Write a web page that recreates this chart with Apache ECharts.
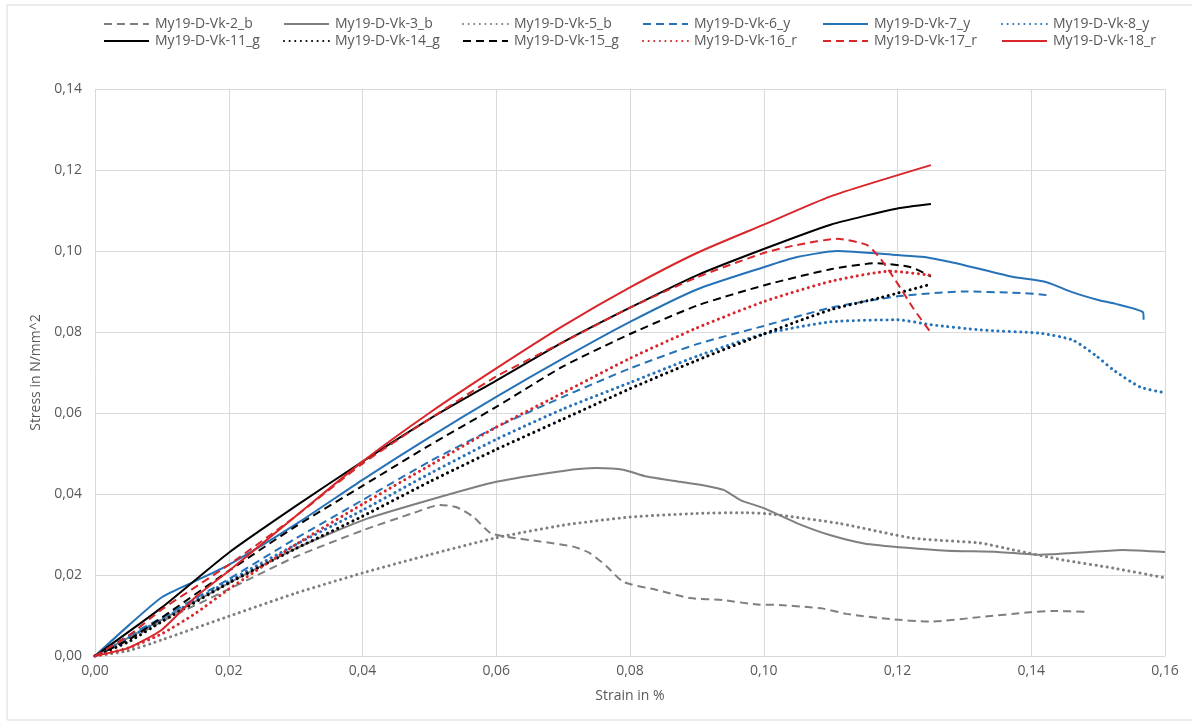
<!DOCTYPE html>
<html>
<head>
<meta charset="utf-8">
<script src="https://cdn.jsdelivr.net/npm/echarts@6/dist/echarts.min.js"></script>
<style>
html, body { margin: 0; padding: 0; background: #fff; }
#main { width: 1192px; height: 728px; }
</style>
</head>
<body>
<div id="main"></div>
<script>
var seriesNames = [
    'My19-D-Vk-2_b', 'My19-D-Vk-3_b', 'My19-D-Vk-5_b', 'My19-D-Vk-6_y', 'My19-D-Vk-7_y', 'My19-D-Vk-8_y',
    'My19-D-Vk-11_g', 'My19-D-Vk-14_g', 'My19-D-Vk-15_g', 'My19-D-Vk-16_r', 'My19-D-Vk-17_r', 'My19-D-Vk-18_r'
];

// [strain, stress]
var vk2 = [[0, 0], [0.005, 0.004], [0.01, 0.0085], [0.02, 0.0165], [0.03, 0.0245], [0.04, 0.031], [0.0476, 0.0353],
    [0.0516, 0.0373], [0.054, 0.0368], [0.0566, 0.0343], [0.0591, 0.0304], [0.0616, 0.0294], [0.0665, 0.0283],
    [0.0715, 0.027], [0.074, 0.0254], [0.0766, 0.022], [0.079, 0.0183], [0.084, 0.0163], [0.089, 0.0143],
    [0.0939, 0.0138], [0.099, 0.0127], [0.1024, 0.0126], [0.1065, 0.0121], [0.1089, 0.0117], [0.1124, 0.0104],
    [0.1189, 0.0091], [0.1249, 0.0085], [0.1323, 0.0096], [0.1398, 0.0108], [0.1433, 0.0111], [0.1483, 0.0109]];
var vk3 = [[0, 0], [0.01, 0.009], [0.02, 0.018], [0.03, 0.0265], [0.04, 0.0335], [0.05, 0.0385], [0.06, 0.043],
    [0.07, 0.0457], [0.075, 0.0464], [0.079, 0.046], [0.0825, 0.0443], [0.0875, 0.043], [0.0915, 0.042],
    [0.094, 0.041], [0.0965, 0.0385], [0.1, 0.0365], [0.1054, 0.0325], [0.11, 0.0298], [0.115, 0.0278],
    [0.1214, 0.0267], [0.1274, 0.026], [0.135, 0.0257], [0.1413, 0.025], [0.148, 0.0256], [0.1537, 0.0262], [0.16, 0.0257]];
var vk5 = [[0, 0], [0.005, 0.0013], [0.01, 0.004], [0.02, 0.0098], [0.03, 0.0155], [0.04, 0.0205], [0.05, 0.025],
    [0.06, 0.0292], [0.07, 0.0323], [0.08, 0.0343], [0.09, 0.0352], [0.097, 0.0354], [0.1014, 0.035],
    [0.1114, 0.0327], [0.1223, 0.0291], [0.1323, 0.0279], [0.1373, 0.0262], [0.1448, 0.0237], [0.1523, 0.0217], [0.16, 0.0193]];
var vk6 = [[0, 0], [0.005, 0.005], [0.01, 0.0095], [0.02, 0.019], [0.03, 0.029], [0.04, 0.0385], [0.05, 0.048],
    [0.06, 0.0565], [0.07, 0.064], [0.08, 0.071], [0.09, 0.077], [0.10, 0.0815], [0.11, 0.086], [0.12, 0.0888],
    [0.13, 0.09], [0.137, 0.0897], [0.1423, 0.0891], [0.1424, 0.088]];
var vk7 = [[0, 0], [0.005, 0.0075], [0.01, 0.0145], [0.015, 0.0185], [0.02, 0.0225], [0.03, 0.0325], [0.04, 0.0435],
    [0.05, 0.054], [0.06, 0.064], [0.07, 0.0735], [0.08, 0.0825], [0.09, 0.0905], [0.10, 0.096], [0.105, 0.0985],
    [0.111, 0.1], [0.12, 0.099], [0.124, 0.0985], [0.13, 0.0965], [0.137, 0.0937], [0.1423, 0.0923],
    [0.146, 0.0899], [0.15, 0.0879], [0.1525, 0.087], [0.1567, 0.0849], [0.1568, 0.083]];
var vk8 = [[0, 0], [0.005, 0.0045], [0.01, 0.009], [0.02, 0.0185], [0.03, 0.0275], [0.04, 0.036], [0.05, 0.045],
    [0.06, 0.0535], [0.07, 0.061], [0.08, 0.0675], [0.09, 0.074], [0.10, 0.0795], [0.11, 0.0825], [0.12, 0.083],
    [0.125, 0.0818], [0.1325, 0.0805], [0.1413, 0.0797], [0.1462, 0.078], [0.1498, 0.074], [0.1523, 0.0706],
    [0.1563, 0.0664], [0.16, 0.065]];
var vk11 = [[0, 0], [0.01, 0.012], [0.02, 0.0255], [0.03, 0.037], [0.04, 0.048], [0.05, 0.0585], [0.06, 0.068],
    [0.07, 0.0775], [0.08, 0.086], [0.09, 0.094], [0.10, 0.1005], [0.11, 0.1065], [0.12, 0.1105], [0.125, 0.1116]];
var vk14 = [[0, 0], [0.005, 0.0035], [0.01, 0.0085], [0.02, 0.018], [0.03, 0.0265], [0.04, 0.0345], [0.05, 0.043],
    [0.06, 0.051], [0.07, 0.0585], [0.08, 0.066], [0.09, 0.073], [0.10, 0.0795], [0.11, 0.0855], [0.1175, 0.0885], [0.125, 0.0918]];
var vk15 = [[0, 0], [0.005, 0.004], [0.01, 0.0095], [0.02, 0.021], [0.03, 0.032], [0.04, 0.042], [0.05, 0.052],
    [0.06, 0.0615], [0.07, 0.0715], [0.08, 0.0795], [0.09, 0.0865], [0.10, 0.0915], [0.11, 0.0955], [0.117, 0.097],
    [0.122, 0.096], [0.125, 0.0937]];
var vk16 = [[0, 0], [0.005, 0.002], [0.01, 0.0055], [0.015, 0.0105], [0.02, 0.0165], [0.03, 0.0275], [0.04, 0.0375],
    [0.05, 0.047], [0.06, 0.0565], [0.07, 0.065], [0.08, 0.0735], [0.09, 0.081], [0.10, 0.0875], [0.11, 0.0925],
    [0.119, 0.095], [0.125, 0.094]];
var vk17 = [[0, 0], [0.005, 0.005], [0.01, 0.0115], [0.02, 0.0225], [0.03, 0.0345], [0.04, 0.0475], [0.05, 0.0585],
    [0.06, 0.069], [0.07, 0.0775], [0.08, 0.086], [0.09, 0.0935], [0.10, 0.0995], [0.105, 0.1015], [0.111, 0.103],
    [0.1154, 0.1015], [0.1175, 0.098], [0.12, 0.092], [0.1223, 0.086], [0.125, 0.0798]];
var vk18 = [[0, 0], [0.005, 0.002], [0.01, 0.0065], [0.015, 0.0145], [0.02, 0.021], [0.03, 0.0345], [0.04, 0.048],
    [0.05, 0.06], [0.06, 0.071], [0.07, 0.0815], [0.08, 0.091], [0.09, 0.0995], [0.10, 0.1065], [0.11, 0.1135], [0.125, 0.1212]];

var allData = [vk2, vk3, vk5, vk6, vk7, vk8, vk11, vk14, vk15, vk16, vk17, vk18];

var grey = '#7f7f7f', blue = '#2672b8', black = '#000000', red = '#d8262b';
var colors = [grey, grey, grey, blue, blue, blue, black, black, black, red, red, red];
var kinds = ['dash', 'solid', 'dot', 'dash', 'solid', 'dot', 'solid', 'dot', 'dash', 'dot', 'dash', 'solid'];

// legend layout: 6 columns, 2 rows (like the excel legend)
var legendCols = [103, 283, 462, 642, 822, 1001];
var legendRows = [17, 34];

function lineStyleFor(kind, color) {
    if (kind == 'dash') {
        return { color: color, width: 2, type: [8, 5] };
    }
    if (kind == 'dot') {
        return { color: color, width: 3, type: [0.1, 5.5], cap: 'round' };
    }
    return { color: color, width: 2, type: 'solid' };
}

function fmt(v) {
    return v.toFixed(2).replace('.', ',');
}

var chart = echarts.init(document.getElementById('main'));

var series = [];
var legends = [];
for (var i = 0; i < allData.length; i++) {
    series.push({
        name: seriesNames[i],
        type: 'line',
        data: allData[i],
        showSymbol: false,
        symbol: 'none',
        smooth: 0.2,
        color: colors[i],
        lineStyle: lineStyleFor(kinds[i], colors[i])
    });
    legends.push({
        data: [seriesNames[i]],
        left: legendCols[i % 6],
        top: legendRows[Math.floor(i / 6)],
        padding: 0,
        itemWidth: 45,
        itemHeight: 14,
        itemGap: 0,
        itemStyle: { opacity: 0 },
        selectedMode: false,
        textStyle: { color: '#595959', fontSize: 14, fontFamily: 'Open Sans', padding: [0, 0, 0, 1] }
    });
}

var labelFont = { color: '#595959', fontSize: 14, fontFamily: 'Open Sans' };

chart.setOption({
    animation: false,
    backgroundColor: '#fff',
    graphic: [{
        type: 'rect',
        shape: { x: 7, y: 5, width: 1200, height: 715 },
        style: { fill: null, stroke: '#d9d9d9', lineWidth: 1 },
        silent: true
    }],
    legend: legends,
    grid: { left: 95, right: 27, top: 89, bottom: 72, containLabel: false },
    xAxis: {
        type: 'value',
        min: 0,
        max: 0.16,
        interval: 0.02,
        name: 'Strain in %',
        nameLocation: 'middle',
        nameGap: 33,
        nameTextStyle: labelFont,
        axisLine: { show: true, lineStyle: { color: '#d9d9d9' } },
        axisTick: { show: false },
        axisLabel: Object.assign({ margin: 8, formatter: fmt }, labelFont),
        splitLine: { show: true, lineStyle: { color: '#d9d9d9', width: 1 } }
    },
    yAxis: {
        type: 'value',
        min: 0,
        max: 0.14,
        interval: 0.02,
        name: 'Stress in N/mm^2',
        nameLocation: 'middle',
        nameGap: 50,
        nameTextStyle: labelFont,
        axisLine: { show: false },
        axisTick: { show: false },
        axisLabel: Object.assign({ margin: 13, formatter: fmt }, labelFont),
        splitLine: { show: true, lineStyle: { color: '#d9d9d9', width: 1 } }
    },
    series: series
});
</script>
</body>
</html>
